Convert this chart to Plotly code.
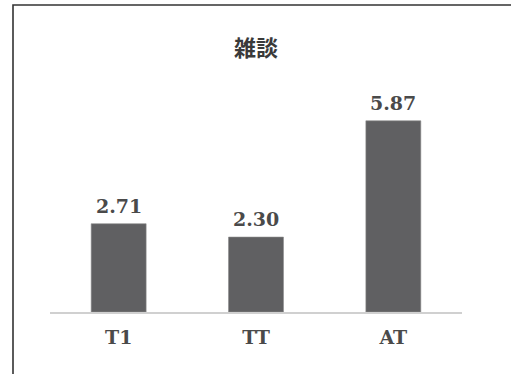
import plotly.graph_objects as go

categories = ["T1", "TT", "AT"]
values = [2.71, 2.30, 5.87]
value_labels = ["2.71", "2.30", "5.87"]
title_text = "雑談"

W, H = 511, 374
ml, mr, mt, mb = 50, 49, 84, 62
pw = W - ml - mr
ph = H - mt - mb

fig = go.Figure()
fig.add_trace(go.Bar(
    x=categories, y=values,
    marker=dict(color="#606062", line=dict(color="#8a8a8a", width=0.6)),
    width=0.4,
    hoverinfo="skip",
))

for c, v, t in zip(categories, values, value_labels):
    fig.add_annotation(x=c, y=v, text=t, showarrow=False, yanchor="middle", yshift=18,
                       font=dict(family="DejaVu Serif", size=19, color="#4a4a4a", weight="bold"))

# frame (decorative border of the original figure)
def px_to_paper_x(px):
    return (px - ml) / pw

def px_to_paper_y(py):
    return (H - mb - py) / ph

bx = px_to_paper_x(13)
by = px_to_paper_y(5)
fig.add_shape(type="path", xref="paper", yref="paper",
              path=f"M {bx} {px_to_paper_y(H + 5)} L {bx} {by} L {px_to_paper_x(W + 5)} {by}",
              line=dict(color="#333333", width=1.6))

fig.update_layout(
    width=W, height=H,
    margin=dict(l=ml, r=mr, t=mt, b=mb),
    paper_bgcolor="white", plot_bgcolor="white",
    showlegend=False,
    title=dict(text=title_text, x=256 / W, xanchor="center", y=1 - 48 / H, yanchor="middle",
               font=dict(family="Noto Sans CJK JP", size=22, color="#3a3a3a", weight="bold")),
    xaxis=dict(showline=True, linecolor="#d0d0d0", linewidth=1.5, ticks="", showgrid=False,
               zeroline=False, ticklabelstandoff=7,
               tickfont=dict(family="DejaVu Serif", size=19, color="#4a4a4a", weight="bold")),
    yaxis=dict(range=[0, 7], visible=False, showgrid=False, zeroline=False),
)

fig.write_html("out.html")
